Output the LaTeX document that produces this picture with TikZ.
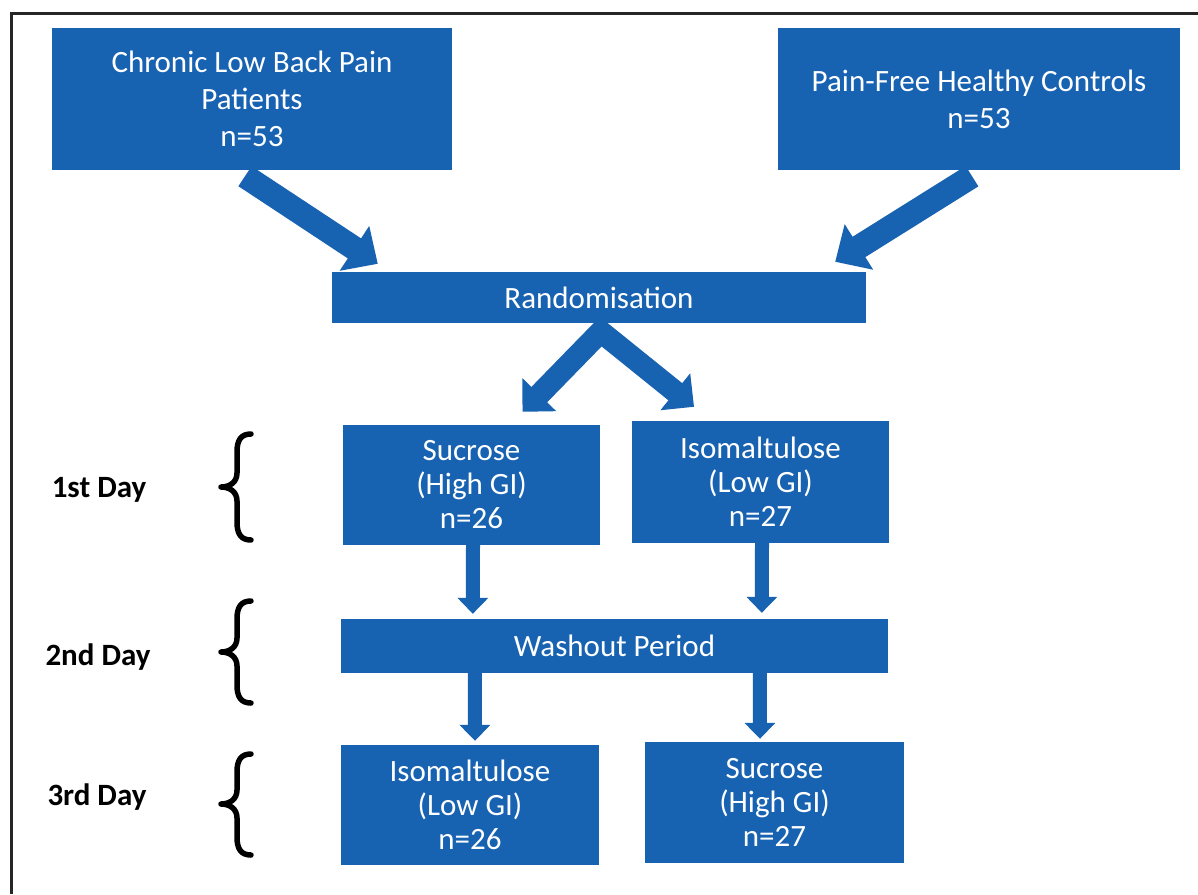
\documentclass[tikz,border=0pt]{standalone}
\usepackage{fontspec}
\setmainfont{Carlito}
\usetikzlibrary{arrows.meta,calc}
\definecolor{myblue}{RGB}{24,98,178}
\newcommand{\mybrace}[3]{%
  \draw[bracepath] (251,#1) .. controls (241,#1) and (237,#1+6) .. (237,#1+18)
    -- (237,#3-14) .. controls (237,#3-5) and (230,#3) .. (221,#3)
    .. controls (230,#3) and (237,#3+5) .. (237,#3+14)
    -- (237,#2-18) .. controls (237,#2-6) and (241,#2) .. (251,#2);}
\begin{document}
\begin{tikzpicture}[x=1pt,y=-1pt,
  box/.style={fill=myblue, text=white, align=center, inner sep=0pt, font=\fontsize{31}{37}\selectfont},
  sbox/.style={box, font=\fontsize{31}{34}\selectfont},
  lab/.style={text=black, inner sep=0pt, font=\bfseries\fontsize{31}{34}\selectfont},
  diagarrow/.style={draw=myblue, line width=24pt, -{Triangle[width=52pt,length=28pt]}},
  varrow/.style={draw=myblue, line width=14pt, -{Triangle[width=30pt,length=16pt]}},
  bracepath/.style={draw=black, line width=5.5pt, line cap=round, line join=round}]
\useasboundingbox (0,0) rectangle (1198,894);
\fill[white] (0,0) rectangle (1198,894);
\draw[line width=3pt, black!85] (11,894) -- (11,13) -- (1198,13);

\node[box, minimum width=400pt, minimum height=142pt] (cb) at (252,99) {Chronic Low Back Pain\\Patients\\n=53};
\node[box, minimum width=402pt, minimum height=142pt] (pf) at (979,99) {Pain-Free Healthy Controls\\n=53};
\node[box, minimum width=534pt, minimum height=51pt] (rand) at (599,297.5) {Randomisation};
\node[sbox, minimum width=257pt, minimum height=120pt] (s1) at (471.5,485) {Sucrose\\(High GI)\\n=26};
\node[sbox, minimum width=257pt, minimum height=122pt] (i1) at (760.5,482) {Isomaltulose\\(Low GI)\\n=27};
\node[box, minimum width=547pt, minimum height=54pt] (w) at (614.5,646) {Washout Period};
\node[sbox, minimum width=258pt, minimum height=120pt] (i3) at (470,805) {Isomaltulose\\(Low GI)\\n=26};
\node[sbox, minimum width=259pt, minimum height=121pt] (s3) at (774.5,802.5) {Sucrose\\(High GI)\\n=27};

\node[lab] (d1) at (99,490) {1st Day};
\node[lab] (d2) at (98,657) {2nd Day};
\node[lab] (d3) at (97,797) {3rd Day};

\mybrace{434}{540}{487}
\mybrace{601}{703}{652}
\mybrace{754}{855}{804}

\draw[diagarrow] ($(cb.south)+(-7,6)$) -- ($(rand.north west)+(46,-8)$);
\draw[diagarrow] ($(pf.south)+(-7,6)$) -- ($(rand.north east)+(-31,-10)$);
\draw[diagarrow, line width=22pt, -{Triangle[width=46pt,length=24pt]}] ($(rand.south)+(7,3)$) -- ($(s1.north)+(51,-13)$);
\draw[diagarrow, line width=22pt, -{Triangle[width=46pt,length=24pt]}] ($(rand.south)+(-5,3)$) -- ($(i1.north)+(-66.5,-14)$);

\draw[varrow] ($(s1.south)+(1.5,0)$) -- ($(w.north west)+(132,-5)$);
\draw[varrow] ($(i1.south)+(1.5,0)$) -- ($(w.north west)+(421,-6)$);
\draw[varrow] ($(w.south west)+(134,0)$) -- ($(i3.north)+(5,-4)$);
\draw[varrow] ($(w.south west)+(419,0)$) -- ($(s3.north)+(-14.5,-3)$);
\end{tikzpicture}
\end{document}
